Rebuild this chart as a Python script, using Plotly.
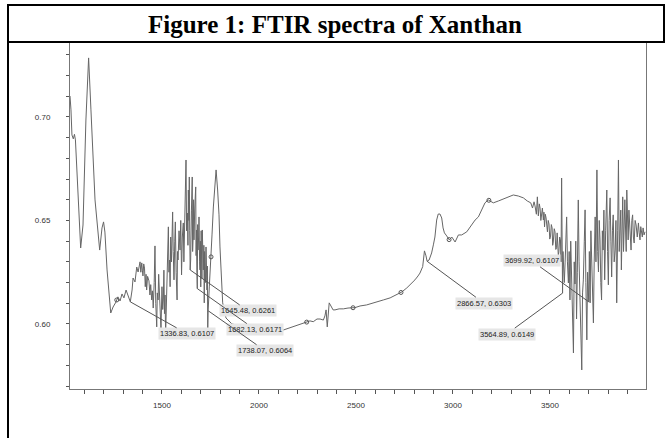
import numpy as np
import plotly.graph_objects as go

# FTIR spectrum of xanthan, (wavenumber cm-1, absorbance) by spectral region
fingerprint = [
    (1026, 0.7101), (1031, 0.7034), (1036, 0.6913), (1043, 0.6894), (1049, 0.6916), (1054, 0.6889),
    (1081, 0.6367), (1093, 0.6478), (1108, 0.6985), (1122, 0.7285), (1134, 0.7034), (1155, 0.6599),
    (1179, 0.6357), (1191, 0.6464), (1199, 0.6493), (1206, 0.6444), (1217, 0.6261), (1236, 0.6053),
    (1248, 0.6082), (1263, 0.6106), (1273, 0.6131), (1284, 0.6111), (1294, 0.6145), (1304, 0.6126),
    (1315, 0.6164), (1325, 0.6135), (1336.83, 0.6107), (1346, 0.6164), (1351, 0.6222), (1361, 0.6203),
    (1370, 0.6275), (1377, 0.6251), (1387, 0.6300), (1391, 0.6250), (1396, 0.6295), (1399, 0.6260),
    (1402, 0.6232), (1406, 0.6290), (1410, 0.6270), (1414, 0.6180), (1418, 0.6240), (1421, 0.6164),
    (1426, 0.6230), (1433, 0.6208), (1438, 0.6140), (1442, 0.6190), (1447, 0.6116), (1451, 0.6160),
    (1455, 0.6077), (1460, 0.6200), (1464, 0.6377), (1468, 0.6100), (1473, 0.5986), (1476, 0.6150),
    (1480, 0.6116), (1483, 0.6240), (1486, 0.6164), (1490, 0.6060), (1495, 0.5971), (1500, 0.6180),
    (1504, 0.6070), (1507, 0.6116), (1510, 0.6260), (1513, 0.6050), (1516, 0.6140), (1519, 0.5947),
    (1523, 0.6080), (1526, 0.6164), (1529, 0.6380), (1533, 0.6469), (1536, 0.6250), (1539, 0.6309),
    (1542, 0.6180), (1545, 0.6420), (1549, 0.6300), (1555, 0.6541), (1558, 0.6350), (1562, 0.6213),
    (1566, 0.6400), (1569, 0.6493), (1573, 0.6250), (1578, 0.6116), (1580, 0.6350), (1583, 0.6309),
    (1588, 0.6450), (1593, 0.6357), (1597, 0.6500), (1601, 0.6237), (1605, 0.6420), (1610, 0.6488),
    (1613, 0.6300), (1616, 0.6406), (1620, 0.6600), (1624, 0.6792), (1627, 0.6450), (1631, 0.6536),
    (1634, 0.6380), (1636, 0.6647), (1639, 0.6500), (1641, 0.6710), (1643, 0.6450), (1645.48, 0.6261),
    (1648, 0.6309), (1652, 0.6550), (1656, 0.6710), (1658, 0.6350), (1661, 0.6430), (1663, 0.6600),
    (1665, 0.6406), (1669, 0.6560), (1674, 0.6662), (1676, 0.6330), (1678, 0.6454), (1680, 0.6250),
    (1682.13, 0.6171), (1684, 0.6480), (1686, 0.6357), (1689, 0.6420), (1691, 0.6517), (1694, 0.6300),
    (1696, 0.6261), (1698, 0.6400), (1700, 0.6179), (1702, 0.6450), (1704, 0.6357), (1706, 0.6220),
    (1708, 0.6454), (1710, 0.6300), (1713, 0.6261), (1716, 0.6380), (1718, 0.6102), (1720, 0.6350),
    (1722, 0.6285), (1725, 0.6200), (1727, 0.6372), (1729, 0.6250), (1732, 0.6164), (1734, 0.6280),
    (1736, 0.5971), (1738.07, 0.6064), (1744, 0.6179), (1748, 0.6237), (1753, 0.6324), (1758, 0.6430),
    (1765, 0.6565), (1773, 0.6696), (1779, 0.6744), (1787, 0.6647), (1794, 0.6527), (1799, 0.6372),
    (1808, 0.6213), (1813, 0.6102), (1830, 0.6029), (1861, 0.6000), (1928, 0.5986), (2005, 0.5976),
    (2057, 0.5971),
]
midrange = [
    (2126, 0.5971), (2177, 0.5987), (2212, 0.6000), (2237, 0.6006), (2263, 0.6015), (2280, 0.6011),
    (2299, 0.6024), (2315, 0.6024), (2332, 0.6019), (2340, 0.6039), (2346, 0.6068), (2352, 0.5986),
    (2357, 0.6044), (2362, 0.6102), (2371, 0.6087), (2382, 0.6068), (2392, 0.6068), (2413, 0.6073),
    (2435, 0.6073), (2459, 0.6077), (2495, 0.6079), (2521, 0.6087), (2555, 0.6092), (2583, 0.6099),
    (2614, 0.6106), (2641, 0.6116), (2676, 0.6126), (2710, 0.6140), (2737, 0.6155), (2762, 0.6174),
    (2784, 0.6193), (2804, 0.6213), (2820, 0.6232), (2830, 0.6246), (2844, 0.6277), (2853, 0.6353),
    (2861, 0.6329), (2866.57, 0.6303), (2877, 0.6309), (2890, 0.6343), (2899, 0.6382), (2907, 0.6420),
    (2916, 0.6502), (2924, 0.6531), (2933, 0.6531), (2942, 0.6512), (2949, 0.6464), (2956, 0.6440),
    (2968, 0.6425), (2981, 0.6406), (2994, 0.6420), (3011, 0.6396), (3028, 0.6430), (3045, 0.6430),
    (3071, 0.6445), (3097, 0.6478), (3114, 0.6502), (3131, 0.6517), (3148, 0.6551), (3165, 0.6585),
    (3182, 0.6599), (3208, 0.6585), (3234, 0.6594), (3260, 0.6604), (3286, 0.6614), (3311, 0.6623),
    (3337, 0.6618), (3363, 0.6609), (3383, 0.6594),
]
hydroxyl = [
    (3401, 0.6585), (3410, 0.6560), (3418, 0.6590), (3423, 0.6570), (3430, 0.6530), (3435, 0.6614),
    (3440, 0.6522), (3445, 0.6580), (3449, 0.6560), (3453, 0.6500), (3457, 0.6536), (3461, 0.6560),
    (3466, 0.6502), (3469, 0.6540), (3472, 0.6469), (3476, 0.6530), (3480, 0.6512), (3484, 0.6460),
    (3487, 0.6445), (3491, 0.6500), (3495, 0.6483), (3499, 0.6410), (3503, 0.6425), (3507, 0.6480),
    (3511, 0.6464), (3514, 0.6380), (3517, 0.6396), (3522, 0.6460), (3526, 0.6445), (3530, 0.6360),
    (3534, 0.6368), (3537, 0.6440), (3540, 0.6406), (3543, 0.6330), (3546, 0.6348), (3550, 0.6420),
    (3554, 0.6406), (3557, 0.6300), (3560, 0.6705), (3564.89, 0.6149), (3567, 0.6350), (3570, 0.6261),
    (3574, 0.6200), (3578, 0.6295), (3582, 0.6400), (3586, 0.6517), (3590, 0.6300), (3595, 0.6198),
    (3599, 0.6350), (3603, 0.6116), (3607, 0.6400), (3611, 0.6261), (3616, 0.6100), (3621, 0.5860),
    (3625, 0.6300), (3629, 0.6193), (3633, 0.6400), (3637, 0.6024), (3641, 0.6250), (3646, 0.6599),
    (3650, 0.6300), (3655, 0.6116), (3659, 0.6000), (3664, 0.5778), (3668, 0.6150), (3672, 0.6213),
    (3677, 0.6400), (3681, 0.6551), (3685, 0.6200), (3690, 0.5923), (3694, 0.6250), (3699.92, 0.6107),
    (3703, 0.6350), (3707, 0.6102), (3711, 0.6450), (3715, 0.6261), (3720, 0.6150), (3724, 0.6005),
    (3728, 0.6300), (3733, 0.6517), (3737, 0.6300), (3742, 0.6744), (3746, 0.6350), (3750, 0.6251),
    (3754, 0.6500), (3758, 0.6406), (3762, 0.6200), (3766, 0.6116), (3770, 0.6450), (3774, 0.6357),
    (3778, 0.6550), (3782, 0.6213), (3787, 0.6450), (3793, 0.6647), (3797, 0.6350), (3801, 0.6189),
    (3805, 0.6500), (3810, 0.6609), (3814, 0.6400), (3818, 0.6227), (3822, 0.6450), (3826, 0.6527),
    (3831, 0.6300), (3836, 0.6357), (3840, 0.6500), (3844, 0.6102), (3849, 0.6450), (3853, 0.6792),
    (3857, 0.6350), (3861, 0.6440), (3865, 0.6550), (3868, 0.6261), (3872, 0.6500), (3875, 0.6614),
    (3879, 0.6350), (3882, 0.6420), (3886, 0.6600), (3889, 0.6478), (3893, 0.6350), (3896, 0.6647),
    (3900, 0.6450), (3903, 0.6406), (3907, 0.6550), (3910, 0.6478), (3914, 0.6380), (3918, 0.6357),
    (3922, 0.6500), (3926, 0.6527), (3930, 0.6420), (3934, 0.6391), (3939, 0.6500), (3944, 0.6478),
    (3950, 0.6420), (3956, 0.6488), (3960, 0.6440), (3964, 0.6406), (3968, 0.6470), (3973, 0.6440),
    (3976, 0.6420), (3980, 0.6464), (3985, 0.6430), (3990, 0.6445),
]

spectrum = fingerprint + midrange + hydroxyl
wavenumber = [p[0] for p in spectrum]
absorbance = [p[1] for p in spectrum]

# picked peaks and their callout texts
peak_wavenumber = [1336.83, 1645.48, 1682.13, 1738.07, 2866.57, 3564.89, 3699.92]
peak_absorbance = [0.6107, 0.6261, 0.6171, 0.6064, 0.6303, 0.6149, 0.6107]
peak_offsets = [(57, 32), (58, 41), (58, 41), (57, 40), (57, 42), (-56, 41), (-57, -41)]

# small ring markers along the trace
ring_wavenumber = [1267, 1753, 2246, 2485, 2732, 2980, 3185]

W, H = 670, 438
L, R, T, B = 70, 24, 43, 49

fig = go.Figure()
fig.add_trace(go.Scatter(
    x=wavenumber, y=absorbance, mode="lines",
    line=dict(color="#666666", width=1), hoverinfo="skip", showlegend=False,
))
fig.add_trace(go.Scatter(
    x=ring_wavenumber, y=np.interp(ring_wavenumber, wavenumber, absorbance),
    mode="markers", marker=dict(symbol="circle-open", size=4, color="#555555", line=dict(width=1)),
    hoverinfo="skip", showlegend=False,
))

annotations = []
for wn, ab, (ax, ay) in zip(peak_wavenumber, peak_absorbance, peak_offsets):
    annotations.append(dict(
        x=wn, y=ab, xref="x", yref="y", ax=ax, ay=ay,
        text=f"{wn:.2f}, {ab:.4f}", showarrow=True, arrowhead=0, arrowwidth=1,
        arrowcolor="#555555", standoff=0, startstandoff=0,
        font=dict(family="Arial, Liberation Sans", size=7.5, color="#222222"),
        bgcolor="#e6e6e6", borderpad=1,
    ))

pw, ph = W - L - R, H - T - B
def px(v):
    return (v - L) / pw
def py(v):
    return (H - B - v) / ph

annotations.append(dict(
    x=px(335), y=py(24), xref="paper", yref="paper", showarrow=False,
    text="<b>Figure 1: FTIR spectra of Xanthan</b>",
    font=dict(family="Liberation Serif, Times New Roman", size=25, color="#000000"),
    xanchor="center", yanchor="middle",
))

border = dict(color="#000000", width=2)
shapes = [
    dict(type="line", xref="paper", yref="paper", x0=px(8), x1=px(664), y0=py(5), y1=py(5), line=border),
    dict(type="line", xref="paper", yref="paper", x0=px(8), x1=px(664), y0=py(42), y1=py(42), line=border),
    dict(type="line", xref="paper", yref="paper", x0=px(8), x1=px(8), y0=py(4), y1=py(438), line=border),
    dict(type="line", xref="paper", yref="paper", x0=px(664), x1=px(664), y0=py(4), y1=py(43), line=border),
]

tickfont = dict(family="Arial, Liberation Sans", size=8, color="#333333")
fig.update_layout(
    width=W, height=H, margin=dict(l=L, r=R, t=T, b=B),
    paper_bgcolor="white", plot_bgcolor="white",
    annotations=annotations, shapes=shapes, showlegend=False,
    xaxis=dict(
        range=[1026, 3995], dtick=500, tick0=0, ticks="outside", ticklen=4, tickcolor="#555555",
        showline=True, linecolor="#777777", linewidth=1, mirror=True, showgrid=False, zeroline=False,
        tickfont=tickfont, ticklabelstandoff=4,
        minor=dict(dtick=100, ticks="outside", ticklen=4, tickcolor="#555555", showgrid=False),
    ),
    yaxis=dict(
        range=[0.5686, 0.7357], dtick=0.05, tick0=0.6, tickformat=".2f", ticks="outside", ticklen=3,
        tickcolor="#555555", showline=True, linecolor="#777777", linewidth=1, mirror=True,
        showgrid=False, zeroline=False, tickfont=tickfont, ticklabelstandoff=14,
        minor=dict(dtick=0.01, ticks="outside", ticklen=3, tickcolor="#555555", showgrid=False),
    ),
)

fig.write_html("out.html")
